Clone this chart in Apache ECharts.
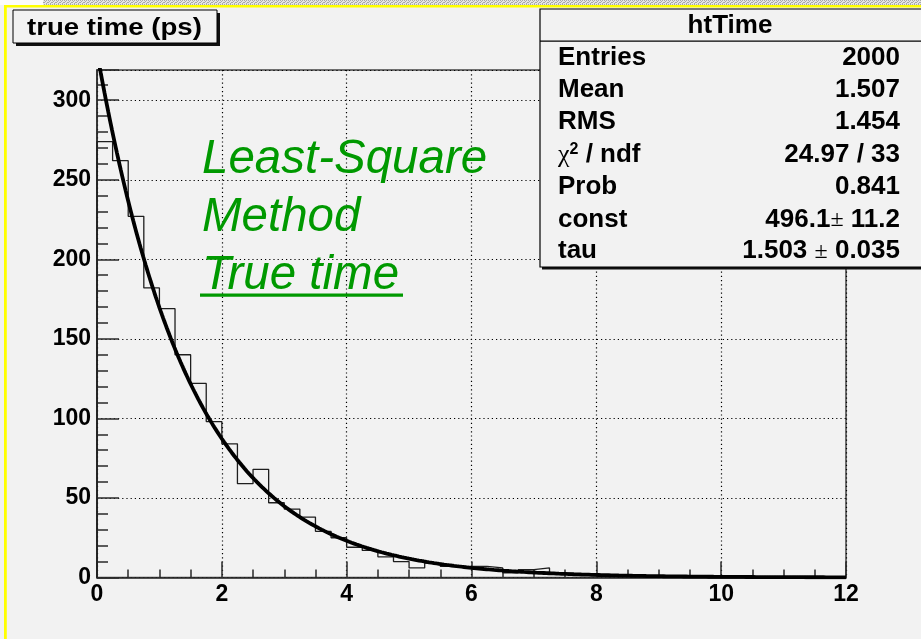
<!DOCTYPE html>
<html>
<head>
<meta charset="utf-8">
<script src="https://cdn.jsdelivr.net/npm/echarts@6/dist/echarts.min.js"></script>
<style>
  html, body { margin: 0; padding: 0; background: #f2f2f2; }
  #chart { width: 921px; height: 639px; }
</style>
</head>
<body>
<div id="chart"></div>
<script>
// htTime: decay-time histogram, 48 bins of 0.25 ps from 0 to 12 ps
const binWidth = 0.25;
const binCounts = [
  274, 262, 227, 182, 169, 140, 122, 98, 84, 59,
  68, 47, 43, 38, 29, 25, 19, 17, 13, 10,
  6, 9, 7, 7, 7, 6, 3, 5, 6, 3,
  2, 1, 1, 1, 1, 0, 1, 0, 0, 0,
  0, 0, 0, 0, 0, 0, 0, 0
];

// Exponential fit: f(t) = const / tau * exp(-t / tau)
const fitConst = 496.1, fitConstErr = 11.2;
const fitTau = 1.503, fitTauErr = 0.035;

// Statistics box entries
const statNames  = ['Entries', 'Mean', 'RMS', 'chi2', 'Prob', 'const', 'tau'];
const statValues = ['2000', '1.507', '1.454', '24.97 / 33', '0.841',
                    fitConst + '\u00b1 ' + fitConstErr, fitTau + ' \u00b1 ' + fitTauErr.toFixed(3)];

// Axis tick labels
const xTickLabels = [0, 2, 4, 6, 8, 10, 12];
const yTickLabels = [0, 50, 100, 150, 200, 250, 300];
const xMax = 12, yMax = 319;

// Histogram outline as a step line through the bin edges
const histData = [[0, 0]];
binCounts.forEach((c, i) => histData.push([i * binWidth, c]));
histData.push([binCounts.length * binWidth, binCounts[binCounts.length - 1]]);

// Fit curve sampled along the axis range
const fitData = [];
for (let i = 0; i <= 600; i++) {
  const t = i * xMax / 600;
  fitData.push([t, fitConst / fitTau * Math.exp(-t / fitTau)]);
}

// Hatched strip along the top edge of the window
const pat = document.createElement('canvas');
pat.width = 4; pat.height = 4;
const pg = pat.getContext('2d');
pg.fillStyle = '#e4e4e4'; pg.fillRect(0, 0, 4, 4);
pg.fillStyle = '#a9a9a9';
pg.fillRect(0, 0, 1, 1); pg.fillRect(2, 0, 1, 1);
pg.fillRect(1, 1, 1, 1); pg.fillRect(3, 2, 1, 1);
pg.fillRect(0, 2, 1, 1); pg.fillRect(2, 3, 1, 1);

const SANS = '"Liberation Sans", Arial, sans-serif';
const AX = '#2a2a2a';
const labelFont = { fontFamily: SANS, fontWeight: 'bold', fontSize: 23, color: '#000' };

const chart = echarts.init(document.getElementById('chart'), null, { renderer: 'canvas' });

// vertical centre of a text line from its baseline
const mid = (base, size) => base - 0.27 * size;

// Stats box rows
const rowBase = [65, 96.7, 129.3, 161.7, 194.3, 226.7, 258.3];
const statsEls = [];
statNames.forEach((name, i) => {
  const y = mid(rowBase[i], 26);
  const labelStyle = name === 'chi2'
    ? { text: '{c|\u03c7}{s|2}{n| / ndf}', rich: {
          c: { font: 'normal 26px "Liberation Serif", serif', fill: '#000' },
          s: { font: 'bold 16px ' + SANS, fill: '#000', verticalAlign: 'top', padding: [0, 0, 8, 0] },
          n: { font: 'bold 26px ' + SANS, fill: '#000' } } }
    : { text: name, font: 'bold 26px ' + SANS, fill: '#000' };
  statsEls.push({ type: 'text', z: 102, x: 558, y: y,
    style: Object.assign({ x: 0, y: 0, align: 'left', verticalAlign: 'middle' }, labelStyle) });
  const v = statValues[i];
  const valStyle = v.indexOf('\u00b1') >= 0
    ? { text: v.replace('\u00b1', '{p|\u00b1}').replace(/^([^{]+)/, '{b|$1}').replace(/(\})([^{}]+)$/, '$1{b|$2}'),
        rich: { b: { font: 'bold 26px ' + SANS, fill: '#000' },
                p: { font: 'normal 24px "Liberation Serif", serif', fill: '#000' } } }
    : { text: v, font: 'bold 26px ' + SANS, fill: '#000' };
  statsEls.push({ type: 'text', z: 102, x: 900, y: y,
    style: Object.assign({ x: 0, y: 0, align: 'right', verticalAlign: 'middle' }, valStyle) });
});

const option = {
  backgroundColor: '#f2f2f2',
  animation: false,
  grid: { left: 97, right: 75, top: 70, bottom: 61.5, show: true,
          borderColor: '#444', borderWidth: 1.5, backgroundColor: 'transparent' },
  xAxis: {
    type: 'value', min: 0, max: xMax, interval: 2,
    axisLine: { show: true, onZero: false, lineStyle: { color: AX, width: 1.6 } },
    axisTick: { show: true, inside: true, length: 16, lineStyle: { color: AX, width: 1.5 } },
    minorTick: { show: true, splitNumber: 4, length: 8, lineStyle: { color: AX, width: 1.5 } },
    splitLine: { show: true, lineStyle: { color: '#000', width: 1.2, type: [1.2, 3] } },
    axisLabel: Object.assign({ margin: 6, formatter: v => xTickLabels.includes(v) ? String(v) : '' }, labelFont)
  },
  yAxis: [{
    type: 'value', min: 0, max: yMax, interval: 50, position: 'left',
    axisLine: { show: true, onZero: false, lineStyle: { color: AX, width: 1.6 } },
    axisTick: { show: true, inside: true, length: 22, lineStyle: { color: AX, width: 1.5 } },
    splitLine: { show: true, lineStyle: { color: '#000', width: 1.2, type: [1.2, 3] } },
    axisLabel: Object.assign({ margin: 6, formatter: v => yTickLabels.includes(v) ? String(v) : '' }, labelFont)
  }, {
    type: 'value', min: 0, max: yMax, interval: 10, position: 'left',
    axisLine: { show: false },
    axisTick: { show: true, inside: true, length: 11, lineStyle: { color: AX, width: 1.5 } },
    splitLine: { show: false },
    axisLabel: { show: false }
  }],
  series: [{
    type: 'line', step: 'end', data: histData, symbol: 'none', silent: true,
    lineStyle: { color: '#1e1e1e', width: 1.3 }, z: 3
  }, {
    type: 'line', data: fitData, symbol: 'none', silent: true, clip: true,
    lineStyle: { color: '#000', width: 3.8 }, z: 4
  }],
  graphic: [
    // window strip and highlighted pad border
    { type: 'rect', z: 90, shape: { x: 0, y: 0, width: 43, height: 5 }, style: { fill: '#fbfbfb' } },
    { type: 'rect', z: 90, shape: { x: 43, y: 0, width: 878, height: 5 },
      style: { fill: { image: pat, repeat: 'repeat' } } },
    { type: 'rect', z: 91, shape: { x: 4, y: 5, width: 917, height: 2.6 }, style: { fill: '#ffff00' } },
    { type: 'rect', z: 91, shape: { x: 4, y: 5, width: 2.8, height: 634 }, style: { fill: '#ffff00' } },

    // title box
    { type: 'rect', z: 95, shape: { x: 16, y: 13, width: 204, height: 33 }, style: { fill: '#111' } },
    { type: 'rect', z: 96, shape: { x: 13, y: 10, width: 204, height: 33 },
      style: { fill: '#f2f2f2', stroke: '#000', lineWidth: 1 } },
    { type: 'text', z: 97, x: 27, y: mid(33.5, 23) + 1.5, scaleX: 1.2,
      style: { x: 0, y: 0, text: 'true time (ps)', font: 'bold 23px ' + SANS, fill: '#000',
               align: 'left', verticalAlign: 'middle' } },

    // method annotation
    { type: 'text', z: 50, x: 202, y: mid(172.5, 47),
      style: { x: 0, y: 0, text: 'Least-Square', font: 'italic 47.5px ' + SANS, fill: '#009900', verticalAlign: 'middle' } },
    { type: 'text', z: 50, x: 202, y: mid(230, 47),
      style: { x: 0, y: 0, text: 'Method', font: 'italic 47.5px ' + SANS, fill: '#009900', verticalAlign: 'middle' } },
    { type: 'text', z: 50, x: 202, y: mid(288, 47),
      style: { x: 0, y: 0, text: 'True time', font: 'italic 47.5px ' + SANS, fill: '#009900', verticalAlign: 'middle' } },
    { type: 'rect', z: 50, shape: { x: 200, y: 293.4, width: 203, height: 3.3 }, style: { fill: '#009900' } },

    // statistics box
    { type: 'rect', z: 100, shape: { x: 542, y: 11, width: 400, height: 258.5 }, style: { fill: '#111' } },
    { type: 'rect', z: 101, shape: { x: 540, y: 9, width: 400, height: 258 },
      style: { fill: '#f2f2f2', stroke: '#000', lineWidth: 1.2 } },
    { type: 'rect', z: 101, shape: { x: 540, y: 40.5, width: 400, height: 1.2 }, style: { fill: '#000' } },
    { type: 'text', z: 102, x: 730, y: mid(33.3, 26),
      style: { x: 0, y: 0, text: 'htTime', font: 'bold 26px ' + SANS, fill: '#000',
               align: 'center', verticalAlign: 'middle' } }
  ].concat(statsEls)
};

chart.setOption(option);
</script>
</body>
</html>
